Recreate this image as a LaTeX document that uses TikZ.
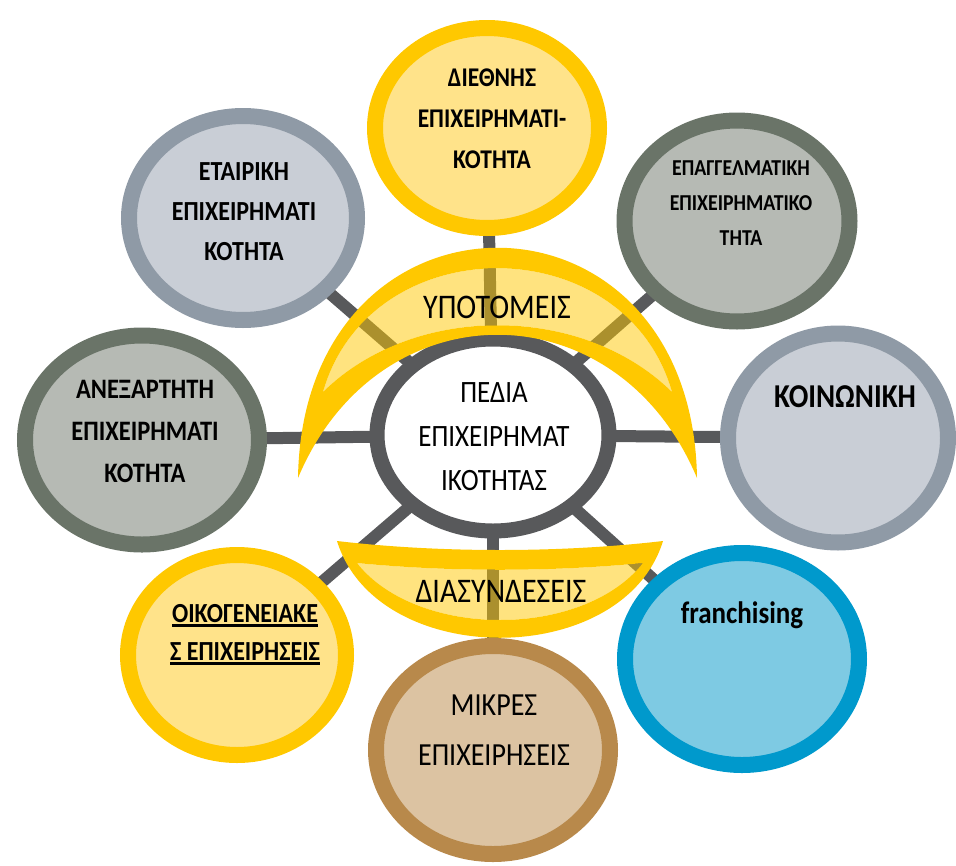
\documentclass[tikz,border=0pt]{standalone}
\usepackage{fontspec}
\setmainfont{Carlito}
\usepackage{graphicx}
\usetikzlibrary{shapes.geometric}
\definecolor{gold}{HTML}{FFC800}
\definecolor{goldl}{HTML}{FFE38A}
\definecolor{bgring}{HTML}{8F9AA6}
\definecolor{bgfill}{HTML}{C9CED6}
\definecolor{dgring}{HTML}{6A7468}
\definecolor{dgfill}{HTML}{B6BAB4}
\definecolor{blring}{HTML}{0099CC}
\definecolor{blfill}{HTML}{7ECAE3}
\definecolor{brring}{HTML}{B8894B}
\definecolor{brfill}{HTML}{DCC3A2}
\definecolor{linegray}{HTML}{58595B}
\newcommand\st[1]{\scalebox{1}[1.15]{#1}}
\newsavebox\ulbox
\newcommand\ulx[1]{\sbox\ulbox{#1}\rlap{\rule[-4pt]{\wd\ulbox}{2.5pt}}\usebox\ulbox}
\pgfdeclarelayer{bg}
\pgfsetlayers{bg,main}
\begin{document}
\begin{tikzpicture}[x=1pt,y=-1pt,
  sat/.style={ellipse, line width=16pt, inner sep=0pt},
  conn/.style={line width=12pt, draw=linegray},
  lbl/.style={align=center, anchor=base, text=black, inner sep=0pt},
  crescent/.style={fill=gold, even odd rule},
  cresin/.style={fill=gold, fill opacity=0.5}]
\useasboundingbox (0,0) rectangle (956,865);
% satellites
\node[sat, draw=gold, fill=goldl, minimum width=224pt, minimum height=200pt] (dieth) at (487,128) {};
\node[sat, draw=bgring, fill=bgfill, minimum width=228pt, minimum height=204pt] (etair) at (243,218) {};
\node[sat, draw=dgring, fill=dgfill, minimum width=225pt, minimum height=201pt] (epag) at (737,221) {};
\node[sat, draw=dgring, fill=dgfill, minimum width=234pt, minimum height=209pt] (anex) at (142,440) {};
\node[sat, draw=bgring, fill=bgfill, minimum width=220pt, minimum height=209pt] (koin) at (838,438) {};
\node[sat, draw=gold, fill=goldl, minimum width=218pt, minimum height=200pt] (oikog) at (237,655) {};
\node[sat, draw=brring, fill=brfill, minimum width=234pt, minimum height=208pt] (mikr) at (493,750) {};
\node[sat, draw=blring, fill=blfill, minimum width=234pt, minimum height=212pt] (franch) at (742,659) {};
% centre
\node[ellipse, line width=15pt, inner sep=0pt, draw=linegray, fill=white, minimum width=232pt, minimum height=192pt] (core) at (493,435) {};
% connectors
\begin{pgfonlayer}{bg}
\foreach \s in {dieth,etair,epag,anex,koin,oikog,mikr,franch}
  \draw[conn] (core.center) -- (\s.center);
\end{pgfonlayer}
% upper crescent
\path[crescent] (298,478) .. controls (303,171) and (692,171) .. (697,478)
  .. controls (617,287) and (378,287) .. (298,478) -- cycle
  (323,392) .. controls (370,227) and (625,227) .. (672,392)
  .. controls (582,303) and (413,303) .. (323,392) -- cycle;
\path[cresin] (323,392) .. controls (370,227) and (625,227) .. (672,392)
  .. controls (582,303) and (413,303) .. (323,392) -- cycle;
% lower crescent
\path[crescent] (337,541) .. controls (440,553) and (560,553) .. (663,541)
  .. controls (623,670) and (377,670) .. (337,541) -- cycle
  (357,563) .. controls (450,572) and (550,572) .. (643,563)
  .. controls (583,639) and (417,639) .. (357,563) -- cycle;
\path[cresin] (357,563) .. controls (450,572) and (550,572) .. (643,563)
  .. controls (583,639) and (417,639) .. (357,563) -- cycle;
% labels (multi-line: anchor base = last line baseline)
\node[lbl, font=\fontsize{30}{35}\selectfont] (tsub) at (497,318) {\st{ΥΠΟΤΟΜΕΙΣ}};
\node[lbl, font=\fontsize{30}{35}\selectfont] (tdia) at (501,602) {\st{ΔΙΑΣΥΝΔΕΣΕΙΣ}};
\node[lbl, font=\fontsize{27}{44}\selectfont] (tcore) at (494,490) {\st{ΠΕΔΙΑ}\\\st{ΕΠΙΧΕΙΡΗΜΑΤ}\\\st{ΙΚΟΤΗΤΑΣ}};
\node[lbl, font=\bfseries\fontsize{23.5}{41}\selectfont] (tdieth) at (492,168) {\st{ΔΙΕΘΝΗΣ}\\\st{ΕΠΙΧΕΙΡΗΜΑΤΙ-}\\\st{ΚΟΤΗΤΑ}};
\node[lbl, font=\bfseries\fontsize{24}{40}\selectfont] (tetair) at (244,260) {\st{ΕΤΑΙΡΙΚΗ}\\\st{ΕΠΙΧΕΙΡΗΜΑΤΙ}\\\st{ΚΟΤΗΤΑ}};
\node[lbl, font=\bfseries\fontsize{19.8}{35}\selectfont] (tepag) at (741,245) {\st{ΕΠΑΓΓΕΛΜΑΤΙΚΗ}\\\st{ΕΠΙΧΕΙΡΗΜΑΤΙΚΟ}\\\st{ΤΗΤΑ}};
\node[lbl, font=\bfseries\fontsize{24.5}{42}\selectfont] (tanex) at (145,482) {\st{ΑΝΕΞΑΡΤΗΤΗ}\\\st{ΕΠΙΧΕΙΡΗΜΑΤΙ}\\\st{ΚΟΤΗΤΑ}};
\node[lbl, font=\bfseries\fontsize{29}{36}\selectfont] (tkoin) at (845,407) {\st{ΚΟΙΝΩΝΙΚΗ}};
\node[lbl, font=\bfseries\fontsize{27}{33}\selectfont] (tfranch) at (742,623) {\st{franchising}};
\node[lbl, font=\bfseries\fontsize{24}{38}\selectfont] (toikog) at (245,660) {\st{\ulx{ΟΙΚΟΓΕΝΕΙΑΚΕ}}\\\st{\ulx{Σ ΕΠΙΧΕΙΡΗΣΕΙΣ}}};
\node[lbl, font=\fontsize{28}{50}\selectfont] (tmikr) at (494,765) {\st{ΜΙΚΡΕΣ}\\\st{ΕΠΙΧΕΙΡΗΣΕΙΣ}};
\end{tikzpicture}
\end{document}
